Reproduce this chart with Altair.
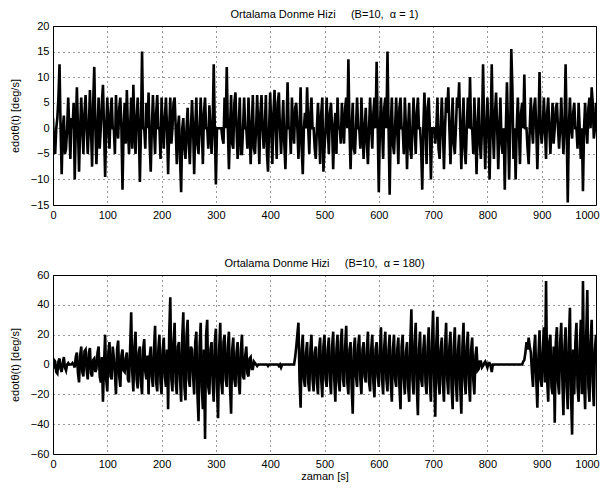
import altair as alt
import pandas as pd

# time axis (s), 2 s step
t = list(range(0, 1001, 2))

# top panel values (deg/s), one row per 100 s
top_vals = [
    2, -4, -5, 0, 2, 6, 12.5, 0, -9, 0, 2.5, -5, -4, 0, 6, 0, -6, 2, 0, 5, -10, 0, 8, 0, -8.5, 0, 6, 0, -5, 3, 6.5, 0, -5, 0, 7.5, 0, -7.5, 5, 12, 0, -7, 0, 6, -4, 0, 5, 8.5, 0, -9.5, 0,
    6, 0, -4, 3, 6, 0, 0, -5, 6.5, 0, -2, 4, 6, 0, -12, 0, 5, -3, 7.5, 0, -5, 0, 6, -4, 8.5, 0, -5, 2, 6, 0, -10.5, 0, 15, 0, 0, -4, 5, 0, 7, -3, -8.5, 0, 6.5, 0, -5, 3, 6.5, 0, 0, -6,
    6, 0, -4, 2, 6, 0, -9, 0, 6, -3, 0, 5, 6, 0, -7, 0, 2.5, -6, -12.5, 0, 2, -4, -6, 0, 4, -3, -7, 0, 5.5, 0, -9, 0, 6, -3, -5, 0, 6, 0, -7, 3, 6, 0, 0, -4, 4.5, 0, -5, 0, 12.5, 0,
    -11, 0, 0, 0, 0, 0, -2, -3, 6, 0, 12, 0, -8, 0, 6.5, -3, -4, 5, 7, 0, -6, 0, 6, -5, -5, 0, 6, 0, 0, -4, 6, 0, -7, 0, 6.5, -4, -5, 0, 6.5, 0, -7, 3, 6.5, 0, -4, 0, 6.5, -5, -8.5, 0,
    7, 0, -7, 3, 7.5, 0, -6, 5, 7, 0, -5, 0, 5.5, -3, -8, 0, 9, 0, 0, -5, 6, 0, -3, 4, 5, 0, -6, 0, 8, -4, -9, 0, 3, 0, 8, 0, -5, 3, 6, 0, 0, -4, -6, 0, 5, 0, -7, 3, 6, -8.5,
    -4, 0, 6, 0, -5, 3, 5, 0, -8, 0, 3, -5, 6, 0, 0, -3, 5, 0, -3, 4, 6, 0, 13.5, 0, -8, 0, 5, -4, -5, 0, 6, 0, 0, -4, 6, 0, -6, 0, 4, -3, -7, 0, 6, 0, -4, 3, 6, 0, 13, 0,
    -12.5, 0, 6, 0, -6, 4, 6, 0, 15, 0, -13, 0, 6, -3, -5, 0, 6, 0, -7, 4, 6, 0, 0, -5, 6, 0, -8, 0, 5, -4, -6, 0, 6, 0, -5, 3, 6, 0, 0, -4, -12, 0, 7, 0, -7, 4, 6, 0, -10, 0,
    0, 0, -3, 0, 6, -4, -6, 0, 6, 0, -8, 0, 6, 3, 8, 0, -7, 0, 6, -3, -5, 0, 6, 4, 9, 0, -8, 0, 6, -4, -7, 0, 6, 0, 10, 0, 0, -5, 6, 0, -9, 0, 6, -3, -6, 0, 12.5, 0, -8, 0,
    6, 0, -10, 0, 12.5, 0, -6, 3, 7, 0, -8, 0, 6, -3, -5, 0, -12, 0, 9, 0, -10, 0, 15.5, 8, -6, 0, -10, 0, 6, 0, -7, 3, 5, 0, 10.5, 0, 0, -4, -7, 0, 6, 0, -3, 4, 6, 0, -8, 0, 11, 0,
    -3, 0, 6, 0, -6, 3, 6, 0, -5, 0, 5, -3, 0, 4, 5, 0, -4, 0, 6, 0, -5, 0, 12.5, 0, -14.5, 0, 6, 0, -2, 3, 5, 0, 0, -4, 5, 0, -6, 0, -12.3, 0, 5, 0, -3, 4, 6, 0, 8, 5, -2, 0,
    5,
]

# bottom panel values (deg/s), one row per 100 s
bot_vals = [
    -3, 3, 2, -5, -6, 2, 4, -3, -5, 1, 5, -2, -4, 0, 1, 0, 0, 0, 1, 0, -2, 5, 8, -6, -12, 6, 12, -5, -8, 9, 10, -4, -10, 8, 11, -6, -8, 3, 4, -5, -3, 8, 12, -8, -12, 5, -25, 0, 20, -10,
    -18, 8, 15, -8, -10, 12, 5, -6, -20, 10, 16, -8, -15, 6, 10, -4, -5, 4, 8, -10, -12, 10, 35, -5, -18, 12, 22, -10, -16, 8, 12, -12, -20, 10, 17, -5, -10, 6, -20, 5, 12, -8, -15, 10, 26, -12, -18, 10, 20, -12,
    -20, 10, 18, -8, -15, 10, -30, 20, 45, -10, -18, 15, 28, -12, -20, 12, 15, -10, -25, 18, 35, -15, -24, 20, 30, -10, -15, 12, 10, -8, -20, 15, 22, -20, -38, 12, 28, -15, -30, 10, -50, 20, 30, -15, -20, 10, 15, -12, -25, 15,
    24, -15, -36, 10, 28, -12, -20, 15, 20, -10, -15, 12, 22, -15, -33, 10, 18, -10, -15, 8, 15, -12, -20, 10, 20, -8, -10, 6, 12, -6, -8, 4, 5, -3, -3, 2, 1, 0, -1, 0, 0, 0, 0, 0, 0, 0, 0, 0, -1, 0,
    0, 0, 0, 0, 0, 0, 0, 0, -1, 0, -2, 0, 0, 0, 0, 0, 0, 0, 0, 0, 0, 0, 0, 5, 12, 20, 28, -10, -29, 10, 20, -10, -15, 8, 15, -12, -18, 10, 20, -10, -18, 8, 12, -12, -20, 10, 18, -10, -22, 12,
    20, -10, -15, 10, 18, -10, -20, 12, 22, -10, -25, 10, 20, -12, -18, 15, 24, -10, -15, 12, 26, -12, -20, 10, 15, -15, -33, 10, 18, -8, -15, 12, 20, -10, -20, 10, 15, -8, -12, 10, 22, -12, -18, 10, 20, -12, -22, 10, 15, -8,
    -15, 10, 25, -10, -20, 12, 22, -10, -18, 10, 20, -12, -25, 10, 20, -10, -15, 10, 18, -15, -30, 12, 20, -10, -20, 8, 15, -15, -25, 15, 37, -10, -20, 15, 28, -15, -34, 10, 22, -10, -15, 10, 20, -12, -20, 12, 25, -12, -25, 15,
    36, -10, -35, 15, 32, -12, -20, 10, 18, -12, -25, 12, 28, -10, -20, 12, 22, -15, -30, 12, 25, -12, -25, 10, 20, -15, -33, 12, 28, -10, -20, 12, 22, -12, -25, 10, 18, -10, -20, 6, 12, -4, -3, 2, 2, -2, -1, 1, 2, 0,
    -2, 1, 1, -1, -5, 0, 0, 0, 0, 0, 0, 0, 0, 0, 0, 0, 0, 0, 0, 0, 0, 0, 0, 0, 0, 0, 0, 0, 0, 0, 0, 0, 0, 2, 3, 8, 15, 10, 18, 12, 8, -5, -15, 10, 20, -10, -29, 5, 23, -10,
    -15, 10, 25, -12, 56, -10, -25, 15, 20, -15, -20, 12, -39, 15, 25, -12, -20, 15, 28, -10, -34, 12, 25, -15, -30, 15, 38, -20, -47, 10, -20, 15, 28, -15, -25, 10, 30, -20, 56, -10, -30, 20, 50, -15, -25, 15, 30, -12, -28, 10,
    20,
]

assert len(top_vals) == len(t), len(top_vals)
assert len(bot_vals) == len(t), len(bot_vals)

x_ticks = [0, 100, 200, 300, 400, 500, 600, 700, 800, 900, 1000]
top_y_ticks = [-15, -10, -5, 0, 5, 10, 15, 20]
bot_y_ticks = [-60, -40, -20, 0, 20, 40, 60]

FONT = "Liberation Sans"
NB = "\u00a0"


def panel(vals, ydom, yticks, title, xtitle):
    df = pd.DataFrame({"t": t, "v": vals})
    x = alt.X(
        "t:Q",
        scale=alt.Scale(domain=[0, 1000], nice=False, zero=False),
        axis=alt.Axis(
            values=x_ticks,
            title=xtitle,
            format="d",
            labelFlush=False,
            labelOverlap=False,
            labelOffset={"condition": {"test": "datum.value == 1000", "value": -9}, "value": 0},
            titlePadding=1,
        ),
    )
    y = alt.Y(
        "v:Q",
        scale=alt.Scale(domain=ydom, nice=False, zero=False),
        axis=alt.Axis(values=yticks, title="edotθ(t) [deg/s]", format="d"),
    )
    return (
        alt.Chart(df)
        .mark_line(color="black", strokeWidth=2.6, clip=True)
        .encode(x=x, y=y)
        .properties(
            width=543,
            height=179,
            title=alt.TitleParams(title, fontSize=11, fontWeight="normal", font=FONT, offset=0),
        )
    )


top = panel(top_vals, [-15, 20], top_y_ticks,
            "Ortalama Donme Hizi" + NB * 5 + "(B=10," + NB * 2 + "α = 1)", None)
bot = panel(bot_vals, [-60, 60], bot_y_ticks,
            "Ortalama Donme Hizi" + NB * 5 + "(B=10," + NB * 2 + "α = 180)", "zaman [s]")

chart = (
    alt.vconcat(top, bot, spacing=36)
    .properties(padding={"left": 0, "top": 0, "right": 0, "bottom": 0})
    .configure_view(stroke="black", strokeWidth=1)
    .configure_axis(
        grid=True,
        gridColor="#000000",
        gridDash=[1, 4],
        gridOpacity=0.8,
        gridWidth=1,
        domain=False,
        ticks=False,
        labelFont=FONT,
        labelFontSize=11,
        labelColor="black",
        labelPadding=4,
        titleFont=FONT,
        titleFontSize=11,
        titleFontWeight="normal",
        titleColor="black",
    )
    .configure_axisY(titlePadding=10)
)

chart.save("out.html", embed_options={"renderer": "svg", "actions": False})
